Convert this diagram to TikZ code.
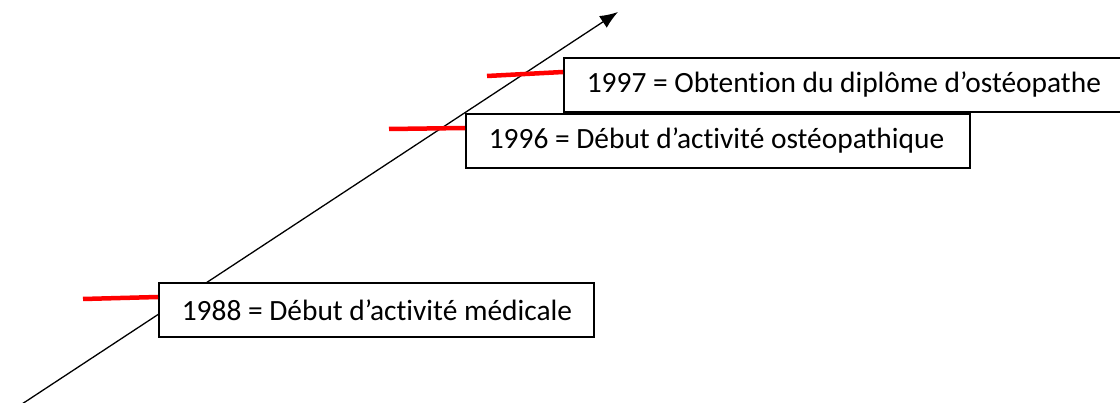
\documentclass[tikz,border=0pt]{standalone}
\usepackage{fontspec}
\setmainfont[Ligatures=NoCommon]{Carlito}
\usetikzlibrary{arrows.meta,calc}
\begin{document}
\begin{tikzpicture}[x=1pt,y=-1pt,
    event/.style={draw, line width=1.6pt, fill=white, anchor=north west,
      minimum height=54pt, inner xsep=23pt,
      font=\fontsize{29.4}{34}\selectfont},
    tick/.style={draw=red, line width=4.5pt}]
  \useasboundingbox (0,0) rectangle (1120,403);

  % time axis
  \coordinate (start) at (22,404);
  \coordinate (tip) at (618,12);
  \draw[line width=1.3pt, -{Latex[length=18pt,width=14pt]}] (start) -- (tip);

  % loops over the 3 events
  \foreach \i/\x/\y/\w/\mx/\my/\txt in {
      1/158/282/389/83/299/{1988 = Début d’activité médicale},
      2/465/113/458/389/129/{1996 = Début d’activité ostéopathique},
      3/563/57/513/487/76/{1997 = Obtention du diplôme d’ostéopathe}}{
    \coordinate (m\i) at (\mx,\my);
    \node[event] (b\i) at (\x,\y) {\makebox[\w pt][l]{\txt}};
    \draw[tick] (m\i) -- ($(b\i.north west)+(0,15)$);
  }
\end{tikzpicture}
\end{document}
